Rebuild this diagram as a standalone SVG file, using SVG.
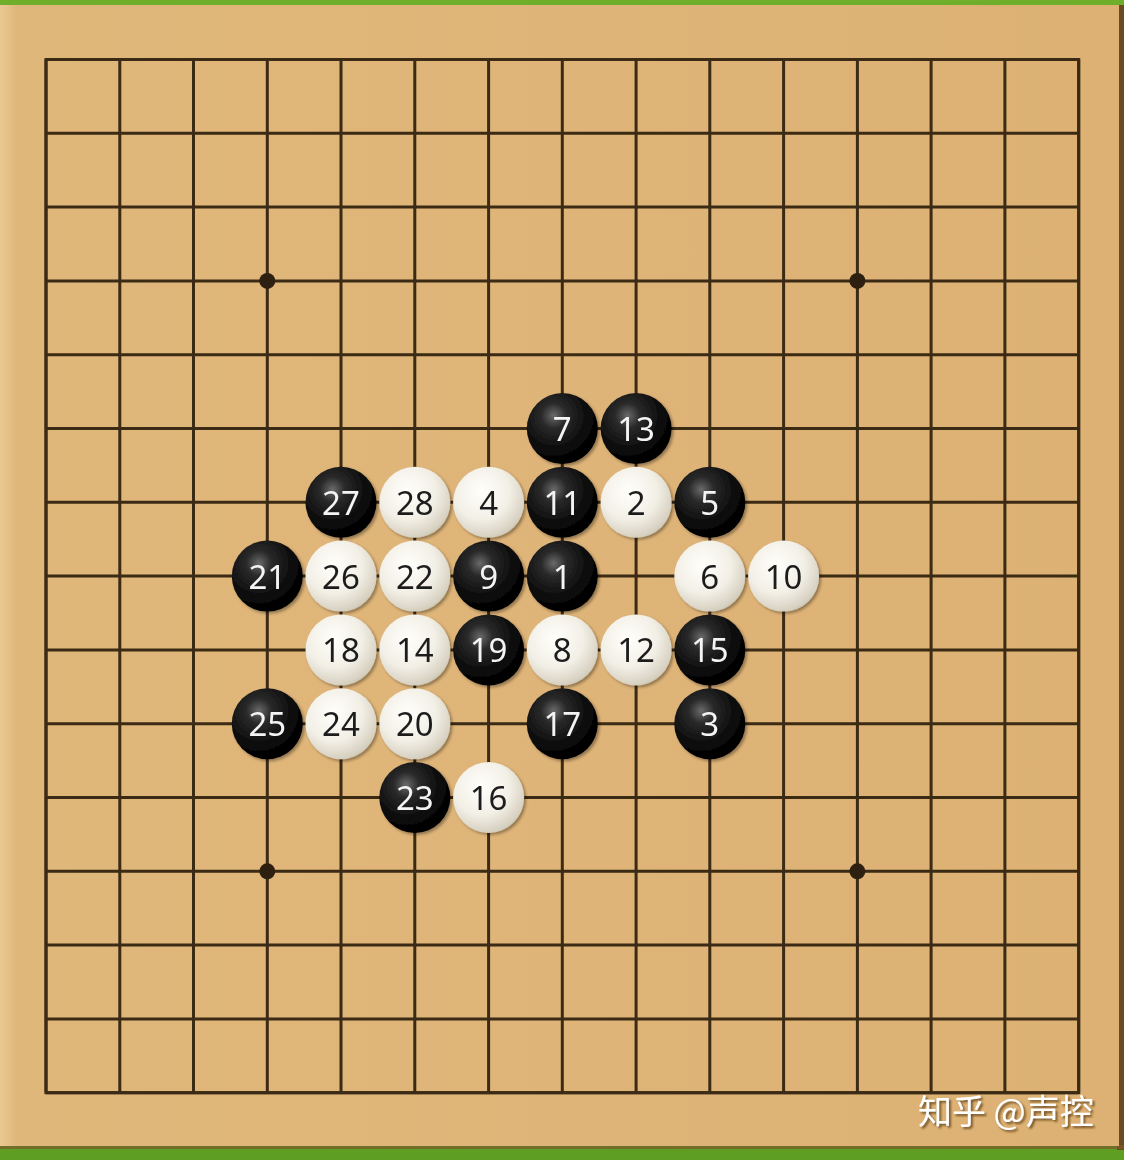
<svg xmlns="http://www.w3.org/2000/svg" width="1124" height="1160" viewBox="0 0 1124 1160">
<defs>
<linearGradient id="wood" x1="0" y1="0" x2="1" y2="0">
<stop offset="0" stop-color="#EAC893"/>
<stop offset="0.015" stop-color="#E0B77A"/>
<stop offset="0.5" stop-color="#DFB478"/>
<stop offset="1" stop-color="#DDB174"/>
</linearGradient>
<radialGradient id="gb" cx="0.38" cy="0.32" r="0.7">
<stop offset="0" stop-color="#6a6a6a"/>
<stop offset="0.25" stop-color="#2a2a2a"/>
<stop offset="0.7" stop-color="#0a0a0a"/>
<stop offset="1" stop-color="#000"/>
</radialGradient>
<radialGradient id="gw" cx="0.4" cy="0.35" r="0.72">
<stop offset="0" stop-color="#FFFFFB"/>
<stop offset="0.55" stop-color="#F2EFE6"/>
<stop offset="0.9" stop-color="#D6D0C0"/>
<stop offset="1" stop-color="#BDB6A4"/>
</radialGradient>
<filter id="sh" x="-20%" y="-20%" width="150%" height="150%">
<feGaussianBlur in="SourceAlpha" stdDeviation="1.5"/>
<feOffset dx="1.5" dy="2" result="b"/>
<feFlood flood-color="#000" flood-opacity="0.35"/>
<feComposite in2="b" operator="in"/>
<feMerge><feMergeNode/><feMergeNode in="SourceGraphic"/></feMerge>
</filter>
<filter id="tsh" x="-10%" y="-20%" width="130%" height="150%">
<feGaussianBlur in="SourceAlpha" stdDeviation="1"/>
<feOffset dx="2" dy="2" result="b"/>
<feFlood flood-color="#5a3a10" flood-opacity="0.8"/>
<feComposite in2="b" operator="in"/>
<feMerge><feMergeNode/><feMergeNode in="SourceGraphic"/></feMerge>
</filter>
</defs>
<style>
.ln{stroke:#3B2A14;stroke-width:3;fill:none}
.b circle{fill:url(#gb)}
.w circle{fill:url(#gw)}
.b text,.w text{font-family:"Noto Sans","Open Sans","DejaVu Sans",sans-serif;font-size:33px;text-anchor:middle;dominant-baseline:central}
.b text{fill:#F4F4F4}
.w text{fill:#1E1E1E}
</style>
<rect x="0" y="0" width="1124" height="1160" fill="#5E9E22"/>
<rect x="0" y="0" width="1124" height="5" fill="#6FAE2A"/>
<rect x="1117" y="5" width="7" height="1145" fill="#6B4C22"/>
<rect x="0" y="1145" width="1124" height="4" fill="#7A5A2C" opacity="0.7"/>
<rect x="0" y="5" width="1119" height="1141" fill="url(#wood)"/>
<g id="grid">
<path class="ln" d="M46 59.5H1078.7M46 133.3H1078.7M46 207.1H1078.7M46 280.9H1078.7M46 354.7H1078.7M46 428.5H1078.7M46 502.3H1078.7M46 576.1H1078.7M46 649.9H1078.7M46 723.7H1078.7M46 797.5H1078.7M46 871.3H1078.7M46 945.1H1078.7M46 1018.9H1078.7M46 1092.7H1078.7"/>
<path class="ln" d="M46 59.5V1092.7M119.8 59.5V1092.7M193.5 59.5V1092.7M267.3 59.5V1092.7M341 59.5V1092.7M414.8 59.5V1092.7M488.6 59.5V1092.7M562.3 59.5V1092.7M636.1 59.5V1092.7M709.8 59.5V1092.7M783.6 59.5V1092.7M857.4 59.5V1092.7M931.1 59.5V1092.7M1004.9 59.5V1092.7M1078.7 59.5V1092.7"/>
<rect class="ln" x="46" y="59.5" width="1032.7" height="1033.2" stroke-width="3.4"/>
<g fill="#2E2010">
<circle cx="267.3" cy="280.9" r="8"/>
<circle cx="857.4" cy="280.9" r="8"/>
<circle cx="267.3" cy="871.3" r="8"/>
<circle cx="857.4" cy="871.3" r="8"/>
<circle cx="562.3" cy="576.1" r="8"/>
</g>
</g>
<g id="stones" filter="url(#sh)">
<g id="s1" class="b"><circle cx="562.3" cy="576.1" r="35.5"/><text x="562.3" y="576.1">1</text></g>
<g id="s2" class="w"><circle cx="636.1" cy="502.3" r="35.5"/><text x="636.1" y="502.3">2</text></g>
<g id="s3" class="b"><circle cx="709.8" cy="723.7" r="35.5"/><text x="709.8" y="723.7">3</text></g>
<g id="s4" class="w"><circle cx="488.6" cy="502.3" r="35.5"/><text x="488.6" y="502.3">4</text></g>
<g id="s5" class="b"><circle cx="709.8" cy="502.3" r="35.5"/><text x="709.8" y="502.3">5</text></g>
<g id="s6" class="w"><circle cx="709.8" cy="576.1" r="35.5"/><text x="709.8" y="576.1">6</text></g>
<g id="s7" class="b"><circle cx="562.3" cy="428.5" r="35.5"/><text x="562.3" y="428.5">7</text></g>
<g id="s8" class="w"><circle cx="562.3" cy="649.9" r="35.5"/><text x="562.3" y="649.9">8</text></g>
<g id="s9" class="b"><circle cx="488.6" cy="576.1" r="35.5"/><text x="488.6" y="576.1">9</text></g>
<g id="s10" class="w"><circle cx="783.6" cy="576.1" r="35.5"/><text x="783.6" y="576.1">10</text></g>
<g id="s11" class="b"><circle cx="562.3" cy="502.3" r="35.5"/><text x="562.3" y="502.3">11</text></g>
<g id="s12" class="w"><circle cx="636.1" cy="649.9" r="35.5"/><text x="636.1" y="649.9">12</text></g>
<g id="s13" class="b"><circle cx="636.1" cy="428.5" r="35.5"/><text x="636.1" y="428.5">13</text></g>
<g id="s14" class="w"><circle cx="414.8" cy="649.9" r="35.5"/><text x="414.8" y="649.9">14</text></g>
<g id="s15" class="b"><circle cx="709.8" cy="649.9" r="35.5"/><text x="709.8" y="649.9">15</text></g>
<g id="s16" class="w"><circle cx="488.6" cy="797.5" r="35.5"/><text x="488.6" y="797.5">16</text></g>
<g id="s17" class="b"><circle cx="562.3" cy="723.7" r="35.5"/><text x="562.3" y="723.7">17</text></g>
<g id="s18" class="w"><circle cx="341" cy="649.9" r="35.5"/><text x="341" y="649.9">18</text></g>
<g id="s19" class="b"><circle cx="488.6" cy="649.9" r="35.5"/><text x="488.6" y="649.9">19</text></g>
<g id="s20" class="w"><circle cx="414.8" cy="723.7" r="35.5"/><text x="414.8" y="723.7">20</text></g>
<g id="s21" class="b"><circle cx="267.3" cy="576.1" r="35.5"/><text x="267.3" y="576.1">21</text></g>
<g id="s22" class="w"><circle cx="414.8" cy="576.1" r="35.5"/><text x="414.8" y="576.1">22</text></g>
<g id="s23" class="b"><circle cx="414.8" cy="797.5" r="35.5"/><text x="414.8" y="797.5">23</text></g>
<g id="s24" class="w"><circle cx="341" cy="723.7" r="35.5"/><text x="341" y="723.7">24</text></g>
<g id="s25" class="b"><circle cx="267.3" cy="723.7" r="35.5"/><text x="267.3" y="723.7">25</text></g>
<g id="s26" class="w"><circle cx="341" cy="576.1" r="35.5"/><text x="341" y="576.1">26</text></g>
<g id="s27" class="b"><circle cx="341" cy="502.3" r="35.5"/><text x="341" y="502.3">27</text></g>
<g id="s28" class="w"><circle cx="414.8" cy="502.3" r="35.5"/><text x="414.8" y="502.3">28</text></g>
</g>
<text id="watermark" x="918" y="1124" filter="url(#tsh)" font-family="'Noto Sans CJK SC','Noto Sans',sans-serif" font-size="34" fill="#FFFFFF">知乎 @声控</text>
</svg>
